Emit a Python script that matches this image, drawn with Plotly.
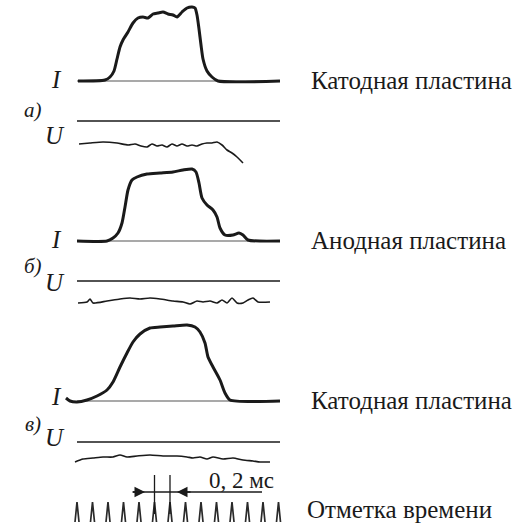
import plotly.graph_objects as go

# ---- data (horizontal: sweep position, vertical: deflection, both in chart units) ----
# Panel а) cathode plate
ia_t = [78, 105, 110, 114, 117, 120, 123, 128, 133, 138, 143, 148, 153, 158, 163, 168, 173, 177, 182, 187, 192, 195, 197, 199, 201, 203, 207, 212, 218, 280]
ia_v = [0, 1, 4, 10, 22, 34, 41, 49, 58, 63, 64, 63, 67, 68, 69, 67, 66, 64, 69, 73, 74, 73, 66, 52, 36, 22, 10, 4, 0, 0]
ua_t = [79, 90, 103, 117, 128, 135, 141, 147, 152, 157, 162, 167, 172, 177, 182, 187, 192, 197, 202, 207, 212, 217, 222, 227, 232, 237, 243]
ua_v = [23, 22, 21, 22, 24, 23, 25, 26, 23, 25, 24, 26, 23, 25, 23, 25, 24, 25, 23, 22, 22, 21, 24, 29, 32, 36, 42]
# Panel б) anode plate
ib_t = [77, 107, 113, 118, 122, 125, 128, 132, 137, 147, 160, 173, 183, 192, 196, 199, 202, 207, 213, 217, 220, 225, 233, 239, 243, 248, 280]
ib_v = [0, 0, 3, 8, 18, 34, 51, 61, 64, 67, 68, 69, 71, 72, 69, 58, 43, 36, 31, 24, 13, 6, 6, 8, 6, 1, 0]
ub_t = [78, 87, 90, 93, 107, 120, 130, 140, 150, 160, 173, 183, 190, 197, 203, 210, 217, 222, 227, 232, 237, 243, 248, 253, 258, 270]
ub_v = [22, 21, 18, 22, 20, 18, 17, 18, 17, 18, 20, 21, 23, 20, 21, 20, 22, 19, 22, 17, 22, 22, 19, 17, 21, 21]
# Panel в) cathode plate
ic_t = [66, 70, 77, 87, 97, 107, 113, 120, 127, 133, 140, 150, 160, 173, 187, 195, 200, 205, 208, 213, 220, 225, 230, 280]
ic_v = [3, 0, -1, 1, 5, 11, 19, 34, 48, 59, 67, 73, 74, 75, 76, 74, 69, 58, 44, 34, 21, 8, 1, 0]
uc_t = [75, 83, 93, 103, 113, 120, 127, 137, 150, 163, 177, 187, 193, 200, 207, 213, 223, 233, 243, 253, 260, 270]
uc_v = [20, 17, 16, 15, 15, 13, 15, 14, 13, 14, 14, 15, 16, 15, 17, 15, 17, 16, 18, 19, 20, 20]
# time marks
mark_t = [77, 92.5, 108, 123.5, 139, 154.5, 170, 185.5, 201, 216.5, 232, 247.5, 263, 278.5]

sweep_start, sweep_end = 77, 280
panel_base_I = [81, 241, 401]
panel_base_U = [121, 281, 442]
panel_letters = ["а)", "б)", "в)"]
plate_labels = ["Катодная пластина", "Анодная пластина", "Катодная пластина"]
scale_text = "0, 2 мс"
marks_label = "Отметка времени"

INK = "#1a1a1a"
fig = go.Figure()

def line(x, y, w, color=INK):
    fig.add_trace(go.Scatter(x=x, y=y, mode="lines", line=dict(color=color, width=w, shape="spline", smoothing=0.6),
                             hoverinfo="skip", showlegend=False))

I_sets = [(ia_t, ia_v), (ib_t, ib_v), (ic_t, ic_v)]
U_sets = [(ua_t, ua_v), (ub_t, ub_v), (uc_t, uc_v)]
for k in range(3):
    bI = panel_base_I[k]; bU = panel_base_U[k]
    line([sweep_start, sweep_end], [bI, bI], 1.2, "#555")
    t, v = I_sets[k]
    line(t, [bI - a for a in v], 3)
    line([sweep_start, sweep_end], [bU, bU], 1.5)
    t, v = U_sets[k]
    line(t, [bU + a for a in v], 1.6)

# time marks
mx, my = [], []
for m in mark_t:
    mx += [m - 2, m, m + 2, None]
    my += [522, 502, 522, None]
fig.add_trace(go.Scatter(x=mx, y=my, mode="lines", line=dict(color="#2a2a2a", width=1.7),
                         hoverinfo="skip", showlegend=False))
# scale bar
line([133, 262], [492, 492], 1.3)
for m in (mark_t[5], mark_t[6]):
    line([m, m], [475, 514], 1.3)

annotations = []
for hx, tx in ((145, 131), (177, 192)):
    annotations.append(dict(x=hx, y=492, ax=tx, ay=492, xref="x", yref="y", axref="x", ayref="y",
                            showarrow=True, arrowhead=2, arrowsize=1.5, arrowwidth=1.4,
                            arrowcolor=INK, text=""))

serif = "Liberation Serif"
I_label_y = [79, 239, 396]
U_label_y = [135, 282, 437]
letter_y = [110, 266, 424]
for k in range(3):
    annotations.append(dict(x=56, y=I_label_y[k], text="<i>I</i>", showarrow=False,
                            xref="x", yref="y", font=dict(family=serif, size=25, color=INK)))
    annotations.append(dict(x=55, y=U_label_y[k], text="<i>U</i>", showarrow=False,
                            xref="x", yref="y", font=dict(family=serif, size=25, color=INK)))
    annotations.append(dict(x=33, y=letter_y[k], text="<i>" + panel_letters[k] + "</i>",
                            showarrow=False, xref="x", yref="y",
                            font=dict(family=serif, size=21, color=INK)))
    annotations.append(dict(x=309, y=panel_base_I[k] - 1, text=plate_labels[k], showarrow=False,
                            xref="x", yref="y", xanchor="left",
                            font=dict(family=serif, size=25, color=INK)))
annotations.append(dict(x=305, y=509, text=marks_label, showarrow=False, xref="x", yref="y",
                        xanchor="left", font=dict(family=serif, size=25, color=INK)))
annotations.append(dict(x=241, y=480, text=scale_text, showarrow=False, xref="x", yref="y",
                        font=dict(family=serif, size=23, color=INK)))

fig.update_layout(width=520, height=526, margin=dict(l=0, r=0, t=0, b=0),
                  paper_bgcolor="white", plot_bgcolor="white", annotations=annotations,
                  xaxis=dict(range=[0, 520], visible=False, fixedrange=True),
                  yaxis=dict(range=[526, 0], visible=False, fixedrange=True))
fig.write_html("out.html")
